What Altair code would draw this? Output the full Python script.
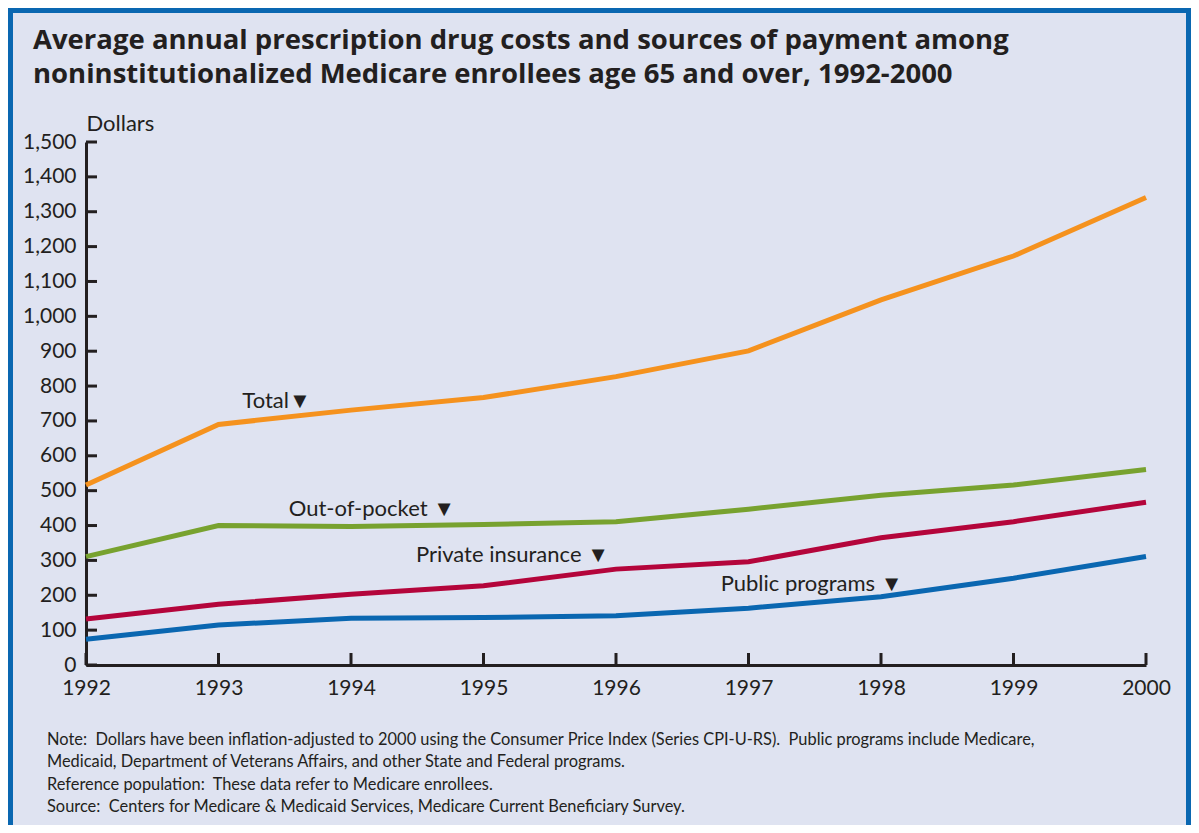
import altair as alt
import pandas as pd

years = [1992, 1993, 1994, 1995, 1996, 1997, 1998, 1999, 2000]
total = [516, 690, 731, 767, 827, 901, 1047, 1173, 1341]
out_of_pocket = [311, 400, 397, 403, 411, 447, 487, 516, 561]
private_insurance = [132, 174, 203, 227, 275, 296, 365, 411, 467]
public_programs = [74, 115, 134, 136, 141, 163, 196, 249, 311]

series_names = ["Total", "Out-of-pocket", "Private insurance", "Public programs"]
series_colors = ["#F5921E", "#78A22F", "#B4053B", "#0A67B1"]

label_text = ["Total\u25BC", "Out-of-pocket \u25BC", "Private insurance \u25BC", "Public programs \u25BC"]
label_year = [1993.18, 1993.53, 1994.49, 1996.79]
label_value = [737, 427, 295, 212]

y_ticks = list(range(0, 1501, 100))

title_lines = [
    "Average annual prescription drug costs and sources of payment among",
    "noninstitutionalized Medicare enrollees age 65 and over, 1992-2000",
]
note_lines = [
    "Note:\u00a0 Dollars have been inflation-adjusted to 2000 using the Consumer Price Index (Series CPI-U-RS).\u00a0 Public programs include Medicare,",
    "Medicaid, Department of Veterans Affairs, and other State and Federal programs.",
    "Reference population:\u00a0 These data refer to Medicare enrollees.",
    "Source:\u00a0 Centers for Medicare & Medicaid Services, Medicare Current Beneficiary Survey.",
]

INK = "#231F20"
BG = "#DFE3F1"
BORDER = "#0A67B1"
W, H = 1060, 523
PL, PT, PR, PB = 78, 134, 45, 160

rows = []
for name, vals in zip(series_names, [total, out_of_pocket, private_insurance, public_programs]):
    for yr, v in zip(years, vals):
        rows.append({"year": yr, "value": v, "series": name})
df = pd.DataFrame(rows)

x_scale = alt.Scale(domain=[1992, 2000], nice=False, zero=False)
y_scale = alt.Scale(domain=[0, 1500], nice=False)
x_axis = alt.Axis(values=years, format="d", title=None, labelFlush=False,
                  labelOverlap=False, labelPadding=12, ticks=False, grid=False)
y_axis = alt.Axis(values=y_ticks, format=",d", title="Dollars", titleAngle=0,
                  titleAlign="left", titleBaseline="alphabetic", titleX=0, titleY=-12,
                  titleFontSize=22, labelFlush=False, labelOverlap=False, labelPadding=10,
                  ticks=False, grid=False)
x_enc = alt.X("year:Q", scale=x_scale, axis=x_axis)
y_enc = alt.Y("value:Q", scale=y_scale, axis=y_axis)

lines = alt.Chart(df).mark_line(strokeWidth=5).encode(
    x=x_enc, y=y_enc,
    color=alt.Color("series:N", scale=alt.Scale(domain=series_names, range=series_colors), legend=None),
)

ytick_df = pd.DataFrame({"value": y_ticks})
ytick_rules = alt.Chart(ytick_df).mark_rule(color=INK, strokeWidth=3).encode(
    y=y_enc, x=alt.value(0), x2=alt.value(11)
)
xtick_df = pd.DataFrame({"year": years})
xtick_rules = alt.Chart(xtick_df).mark_rule(color=INK, strokeWidth=3).encode(
    x=x_enc, y=alt.value(H), y2=alt.value(H - 12)
)

lab_df = pd.DataFrame({"year": label_year, "value": label_value, "label": label_text})
labels = alt.Chart(lab_df).mark_text(
    align="left", baseline="alphabetic", font="Lato", fontSize=22, color=INK
).encode(x=x_enc, y=y_enc, text="label:N")

one = pd.DataFrame({"a": [0]})

title_text = alt.Chart(one).mark_text(
    align="left", baseline="alphabetic", font="Open Sans", fontWeight="bold",
    fontSize=27.5, lineHeight=34, color=INK
).encode(x=alt.value(-53), y=alt.value(-93), text=alt.value(title_lines))

notes_text = alt.Chart(one).mark_text(
    align="left", baseline="alphabetic", font="Lato", fontSize=16.4,
    lineHeight=22.3, color=INK
).encode(x=alt.value(-39), y=alt.value(603), text=alt.value(note_lines))

layers = [lines, ytick_rules, xtick_rules, labels, title_text, notes_text]

# frame border (left, top, right)
SVG_W = PL + W + PR
SVG_H = PT + H + PB
layers.append(alt.Chart(one).mark_rule(color=BORDER, strokeWidth=5).encode(
    x=alt.value(-PL + 2.5), y=alt.value(-PT), y2=alt.value(SVG_H - PT)))
layers.append(alt.Chart(one).mark_rule(color=BORDER, strokeWidth=5).encode(
    x=alt.value(-PL), x2=alt.value(SVG_W - PL), y=alt.value(-PT + 2.5)))
layers.append(alt.Chart(one).mark_rule(color=BORDER, strokeWidth=5).encode(
    x=alt.value(SVG_W - PL - 2.5), y=alt.value(-PT), y2=alt.value(SVG_H - PT)))

chart = alt.layer(*layers).properties(
    width=W, height=H,
    autosize=alt.AutoSizeParams(type="none"),
    padding={"left": PL, "top": PT, "right": PR, "bottom": PB},
    background=BG,
).configure_view(stroke=None).configure_axis(
    labelFont="Lato", labelFontSize=21, labelColor=INK,
    titleFont="Lato", titleFontSize=22, titleFontWeight="normal", titleColor=INK,
    domainColor=INK, domainWidth=3, ticks=False, grid=False,
)

chart.save("out.html", embed_options={"renderer": "svg", "actions": False})
